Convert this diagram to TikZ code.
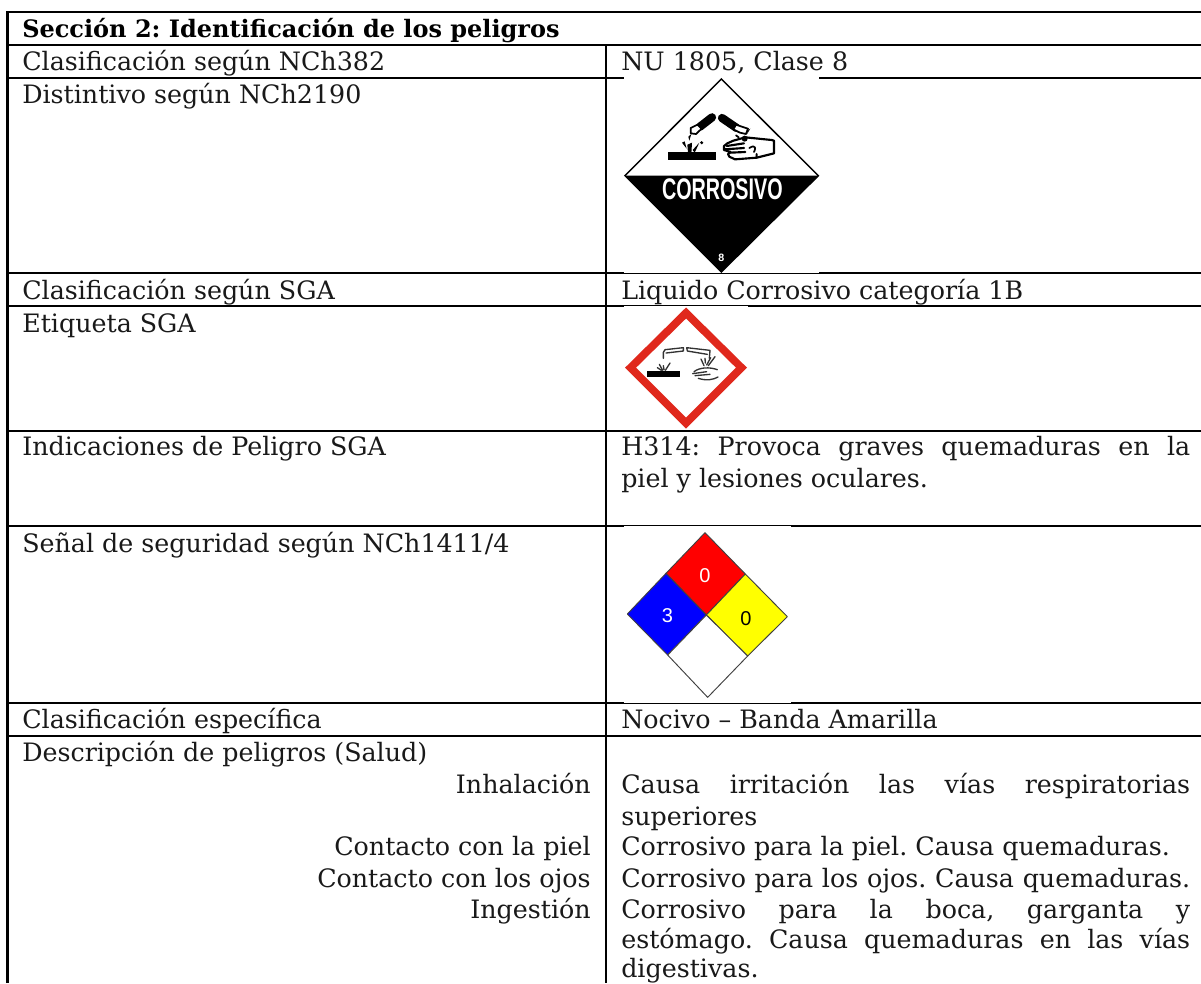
\documentclass[tikz,border=0pt]{standalone}
\usepackage{fontspec}
\setmainfont{DejaVu Serif}
\newfontfamily\labelsans{Liberation Sans}
\newcommand{\jl}[1]{\hbox to 426.75pt{#1}}
\AtBeginDocument{\frenchspacing}
\definecolor{ghsred}{RGB}{224,40,28}
\definecolor{nfblue}{RGB}{0,0,255}
\definecolor{nfred}{RGB}{255,0,0}
\definecolor{nfyellow}{RGB}{255,255,0}
\tikzset{
  rulel/.style={line width=1.65pt,black},
  txtl/.style={anchor=base west,inner sep=0pt,font=\fontsize{19}{22}\selectfont,text=black!90},
  txtr/.style={anchor=base east,inner sep=0pt,font=\fontsize{19}{22}\selectfont,text=black!90},
  txtb/.style={anchor=base west,inner sep=0pt,font=\fontsize{18}{22}\bfseries\selectfont},
  imgbg/.style={fill=white,draw=none},
  zoomone/.style={x=0.25pt,y=-0.25pt,xshift=450pt,yshift=-45pt},
  zoomtwo/.style={x=0.25pt,y=-0.25pt,xshift=465pt,yshift=-251.25pt},
  nfp/.style={draw=black!75,line width=0.7pt,line join=round},
  nfnum/.style={inner sep=0pt,font=\labelsans\fontsize{15}{16}\selectfont},
  pict/.style={line width=1.3pt,line cap=round,line join=round,black},
  pictb/.style={line width=1pt,line cap=round,line join=round,black!80},
}
\begin{document}
\begin{tikzpicture}[x=0.75pt,y=-0.75pt]
\useasboundingbox (0,0) rectangle (1201,983);
\fill[white] (0,0) rectangle (1201,983);
% table rules
\draw[rulel] (7.4,983) -- (7.4,11.6) -- (1201,11.6);
\foreach \yy in {44.6,77.6,273,306,430.8,525.8,702.9,735.6}
  \draw[rulel] (6.5,\yy) -- (1201,\yy);
\draw[rulel] (606,44.6) -- (606,983);
% white image backgrounds that thin the rules
\fill[imgbg] (624,77.2) rectangle (819,272.8);
\fill[imgbg] (624,306.2) rectangle (748,429);
\fill[imgbg] (624,526) rectangle (791,702.6);
% text
\node[txtb] (h) at (22,37) {Sección 2: Identificación de los peligros};
\node[txtl] (l1) at (22,70) {Clasificación según NCh382};
\node[txtl] (r1) at (621,70) {NU 1805, Clase 8};
\node[txtl] (l2) at (22,103) {Distintivo según NCh2190};
\node[txtl] (l3) at (22,299) {Clasificación según SGA};
\node[txtl] (r3) at (621,299) {Liquido Corrosivo categoría 1B};
\node[txtl] (l4) at (22,332) {Etiqueta SGA};
\node[txtl] (l5) at (22,455) {Indicaciones de Peligro SGA};
\node[txtl] (r5a) at (621,455) {\jl{H314: Provoca graves quemaduras en la}};
\node[txtl] (r5b) at (621,487) {piel y lesiones oculares.};
\node[txtl] (l6) at (22,552) {Señal de seguridad según NCh1411/4};
\node[txtl] (l7) at (22,728) {Clasificación específica};
\node[txtl] (r7) at (621,728) {Nocivo – Banda Amarilla};
\node[txtl] (l8) at (22,761) {Descripción de peligros (Salud)};
\node[txtr] (l9) at (591,793) {Inhalación};
\node[txtl] (r9a) at (621,793) {\jl{Causa irritación las vías respiratorias}};
\node[txtl] (r9b) at (621,825) {superiores};
\node[txtr] (l10) at (591,855) {Contacto con la piel};
\node[txtl] (r10) at (621,855) {Corrosivo para la piel. Causa quemaduras.};
\node[txtr] (l11) at (591,887) {Contacto con los ojos};
\node[txtl] (r11) at (621,887) {\jl{Corrosivo para los ojos. Causa quemaduras.}};
\node[txtr] (l12) at (591,918) {Ingestión};
\node[txtl] (r12a) at (621,918) {\jl{Corrosivo para la boca, garganta y}};
\node[txtl] (r12b) at (621,948) {\jl{estómago. Causa quemaduras en las vías}};
\node[txtl] (r12c) at (621,977) {digestivas.};
% corrosive placard
\begin{scope}[zoomone]
\fill[black] (75,347) -- (655,347) -- (364,636) -- cycle;
\draw[line width=1.1pt,black,line join=miter] (364,57) -- (655,347) -- (364,636) -- (75,347) -- cycle;
\fill[black] (205,277) rectangle (347,300);
\draw[line width=6.2pt,line cap=round] (300,200) -- (336,172);
\draw[line width=6.2pt,line cap=round] (366,174) -- (410,204);
\draw[pict,fill=white] (292,194) -- (272,204) -- (272,220) -- (288,222) -- (305,206) -- cycle;
\draw[pict,fill=white] (408,194) -- (444,206) -- (438,222) -- (420,218) -- (400,208) -- cycle;
\fill (265,230) -- (274,222) -- (268,242) -- cycle;
\fill (246,248) -- (254,244) -- (260,266) -- cycle;
\fill (262,254) -- (276,248) -- (274,282) -- (264,280) -- cycle;
\fill (278,270) -- (298,248) -- (284,278) -- cycle;
\fill (305,248) circle (5);
\fill (445,210) -- (451,206) -- (440,224) -- cycle;
\draw[pict,line width=1.6pt,fill=white] (436,232) -- (515,240) -- (522,242) -- (522,280) -- (470,293) -- (405,298) -- (388,290) -- (384,282) -- (392,276) -- (372,270) -- (372,258) -- (382,250) -- (400,242) -- cycle;
\draw[pict,line width=1.6pt] (380,258) -- (432,250) (374,268) -- (432,264) (390,278) -- (436,276) (470,293) -- (470,282);
\draw[pict] (448,264) .. controls (470,250) and (466,270) .. (462,276);
\fill (434,236) circle (9);
\draw[pict] (408,226) -- (416,232);
\node[inner sep=0pt,text=white] (cor) at (367,389) {\resizebox{90.5pt}{15.6pt}{\labelsans\bfseries CORROSIVO}};
\node[inner sep=0pt,text=white,font=\labelsans\bfseries\fontsize{8}{9}\selectfont] (cl) at (364,592) {8};
\end{scope}
% GHS pictogram
\fill[ghsred,even odd rule] (686,307.5) -- (747,367.7) -- (686,428.5) -- (625,367.7) -- cycle (686,318.5) -- (636,367.7) -- (686,417.5) -- (736,367.7) -- cycle;
\begin{scope}[zoomtwo]
\fill[black] (80,108) rectangle (180,127);
\draw[pictb] (130,70) -- (130,52) -- (135,44) -- (190,38) -- (190,48) -- (138,54);
\draw[pictb] (200,38) -- (270,46) -- (268,70) (200,38) -- (202,48) -- (262,58);
\draw[pictb] (118,88) -- (128,106) (150,84) -- (136,106) (130,92) -- (132,104) (112,98) -- (124,106);
\draw[pictb] (243,72) -- (252,92) (285,65) -- (265,92) (272,68) -- (260,90) (255,70) -- (256,84);
\draw[pictb] (222,110) .. controls (240,96) and (270,96) .. (292,104) (218,116) -- (260,110) (225,122) -- (270,118) (235,130) .. controls (260,138) and (280,134) .. (294,126);
\end{scope}
% NFPA diamond
\begin{scope}[x=0.25pt,y=-0.25pt,xshift=450pt,yshift=-367.5pt]
\coordinate (nt) at (315,128); \coordinate (nl) at (82,372); \coordinate (nr) at (562,380);
\coordinate (nb) at (323,622); \coordinate (nc) at (319,375); \coordinate (ua) at (198,250);
\coordinate (ub) at (436,252); \coordinate (la) at (203,495); \coordinate (lb) at (443,498);
\draw[nfp,fill=nfred] (nt) -- (ub) -- (nc) -- (ua) -- cycle;
\draw[nfp,fill=nfblue] (ua) -- (nc) -- (la) -- (nl) -- cycle;
\draw[nfp,fill=nfyellow] (ub) -- (nr) -- (lb) -- (nc) -- cycle;
\draw[nfp,fill=white] (nc) -- (lb) -- (nb) -- (la) -- cycle;
\node[nfnum,text=white] (n0) at (315,257) {0};
\node[nfnum,text=white] (n3) at (202,377) {3};
\node[nfnum,text=black] (n1) at (438,385) {0};
\end{scope}
\end{tikzpicture}
\end{document}
